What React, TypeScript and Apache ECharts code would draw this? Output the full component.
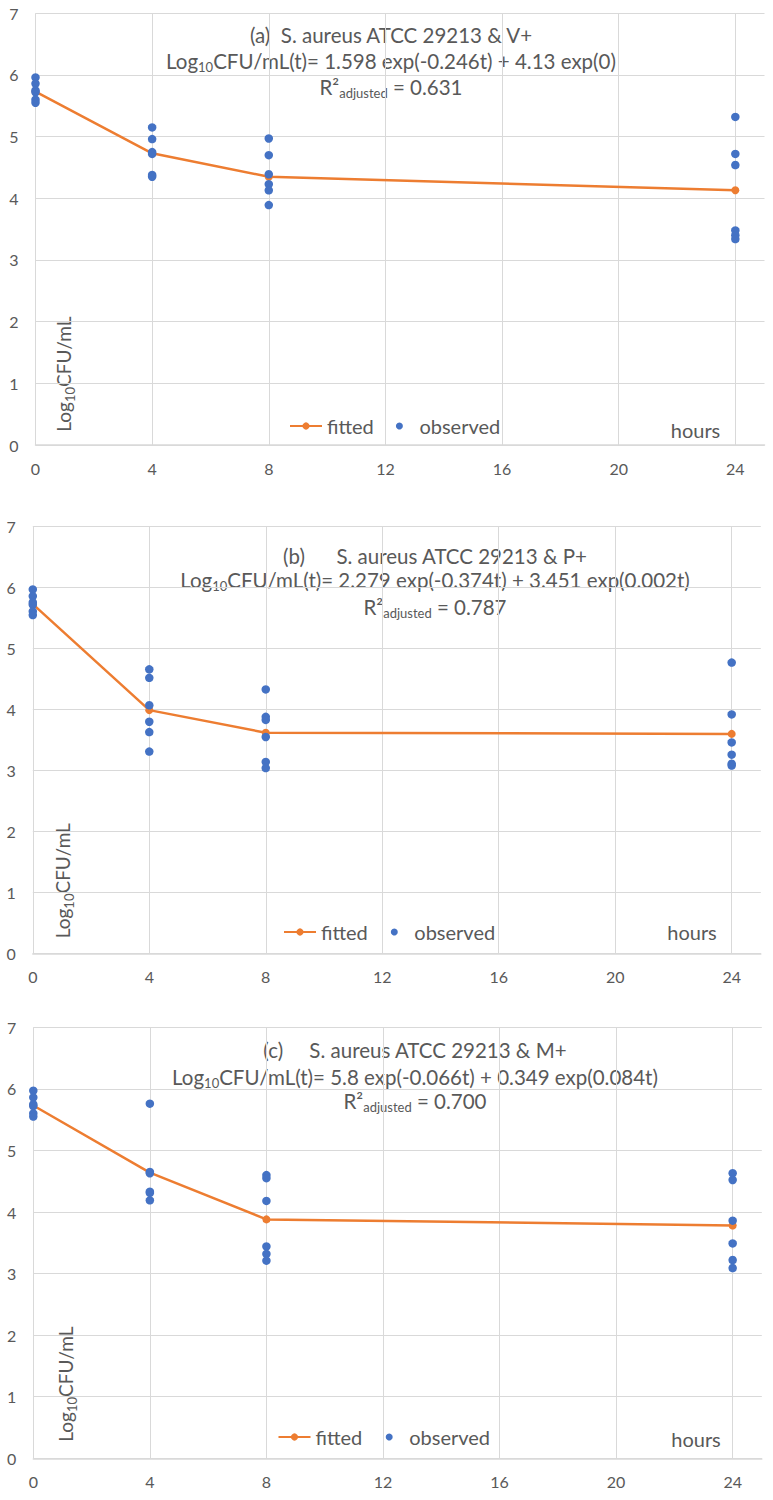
import React, { useEffect, useRef } from "react";
import * as echarts from "echarts";

const HOURS = [0, 4, 8, 24];
const X_MAX = 25;
const Y_MAX = 7;

const FIT_A = [5.73, 4.73, 4.35, 4.13];
const FIT_B = [5.73, 3.99, 3.62, 3.6];
const FIT_C = [5.73, 4.64, 3.88, 3.78];

const OBS_A = [
  [5.96, 5.86, 5.75, 5.72, 5.6, 5.55],
  [5.15, 4.96, 4.75, 4.72, 4.38, 4.35],
  [4.97, 4.7, 4.39, 4.23, 4.13, 3.89],
  [5.32, 4.72, 4.54, 3.48, 3.4, 3.34],
];
const OBS_B = [
  [5.97, 5.86, 5.76, 5.72, 5.61, 5.55],
  [4.66, 4.52, 4.07, 3.8, 3.63, 3.31],
  [4.33, 3.88, 3.83, 3.55, 3.14, 3.04],
  [4.77, 3.92, 3.46, 3.26, 3.11, 3.08],
];
const OBS_C = [
  [5.97, 5.86, 5.75, 5.72, 5.6, 5.55],
  [5.76, 4.65, 4.63, 4.33, 4.31, 4.19],
  [4.6, 4.55, 4.18, 3.44, 3.32, 3.21],
  [4.63, 4.52, 3.86, 3.49, 3.22, 3.09],
];

const TITLE_1 = [
  "(a)  S. aureus ATCC 29213 & V+",
  "(b)      S. aureus ATCC 29213 & P+",
  "(c)     S. aureus ATCC 29213 & M+",
];
const TITLE_2 = [
  "Log{s10|10}CFU/mL(t)= 1.598 exp(-0.246t) + 4.13 exp(0)",
  "Log{s10|10}CFU/mL(t)= 2.279 exp(-0.374t) + 3.451 exp(0.002t)",
  "Log{s10|10}CFU/mL(t)= 5.8 exp(-0.066t) + 0.349 exp(0.084t)",
];
const TITLE_3 = [
  "R²{sadj|adjusted} = 0.631",
  "R²{sadj|adjusted} = 0.787",
  "R²{sadj|adjusted} = 0.700",
];
const Y_NAME = "Log{s10|10}CFU/mL";
const X_NAME = "hours";
const LEG_FIT = "fitted";
const LEG_OBS = "observed";

const GRAY = "#595959";
const GRID_C = "#d9d9d9";
const ORANGE = "#ED7D31";
const BLUE = "#4472C4";
const FONT = "Lato, 'Open Sans', sans-serif";

const PANELS = [
  {
    grid: { left: 35.5, top: 13.3, width: 729, height: 431.7 },
    titleX: 391,
    titleY: [34.6, 60.6, 86.6],
    yName: [63.5, 431.7],
    xName: [695.5, 430],
    legTop: 415,
    legFitLeft: 289,
    legObsLeft: 395.9,
  },
  {
    grid: { left: 32.8, top: 526.7, width: 728, height: 426.6 },
    titleX: 435,
    titleY: [555.6, 579.6, 606.6],
    yName: [62, 938.3],
    xName: [692, 932],
    legTop: 921,
    legFitLeft: 283,
    legObsLeft: 390.8,
  },
  {
    grid: { left: 33.3, top: 1027.3, width: 728.5, height: 431 },
    titleX: 415,
    titleY: [1049.6, 1076.6, 1100.6],
    yName: [65.5, 1441.7],
    xName: [696, 1439],
    legTop: 1426,
    legFitLeft: 277.5,
    legObsLeft: 385.7,
  },
];

const FITS = [FIT_A, FIT_B, FIT_C];
const OBS = [OBS_A, OBS_B, OBS_C];

const RICH = {
  s10: { fontSize: 13, lineHeight: 12, verticalAlign: "bottom", fontFamily: FONT, fill: GRAY },
  sadj: { fontSize: 13, lineHeight: 18, verticalAlign: "bottom", fontFamily: FONT, fill: GRAY },
};
const RICH_Y = {
  s10: { fontSize: 13, lineHeight: 12, verticalAlign: "bottom", fontFamily: FONT, fill: GRAY },
};

export default function App() {
  const ref = useRef<HTMLDivElement>(null);
  useEffect(() => {
    const chart = echarts.init(ref.current!, null, { renderer: "svg" });
    const grids: any[] = [];
    const xAxes: any[] = [];
    const yAxes: any[] = [];
    const series: any[] = [];
    const legends: any[] = [];
    const graphics: any[] = [];

    PANELS.forEach((p, i) => {
      grids.push({ ...p.grid, containLabel: false });
      xAxes.push({
        type: "value",
        gridIndex: i,
        min: 0,
        max: X_MAX,
        interval: 4,
        axisTick: { show: false },
        axisLine: { show: true, lineStyle: { color: GRID_C, width: 1.5 } },
        axisLabel: {
          showMaxLabel: false,
          color: GRAY,
          fontSize: 16,
          fontFamily: FONT,
          margin: 15,
        },
        splitLine: { show: true, showMaxLine: false, lineStyle: { color: GRID_C, width: 1 } },
      });
      yAxes.push({
        type: "value",
        gridIndex: i,
        min: 0,
        max: Y_MAX,
        interval: 1,
        axisTick: { show: false },
        axisLine: { show: false },
        axisLabel: { color: GRAY, fontSize: 16, fontFamily: FONT, margin: 17 },
        splitLine: { show: true, lineStyle: { color: GRID_C, width: 1 } },
      });
      series.push({
        type: "line",
        name: LEG_FIT,
        xAxisIndex: i,
        yAxisIndex: i,
        data: HOURS.map((t, k) => [t, FITS[i][k]]),
        symbol: "circle",
        symbolSize: 8,
        showSymbol: true,
        lineStyle: { color: ORANGE, width: 2.5 },
        itemStyle: { color: ORANGE },
        z: 2,
      });
      const pts: number[][] = [];
      HOURS.forEach((t, k) => OBS[i][k].forEach((v) => pts.push([t, v])));
      series.push({
        type: "scatter",
        name: LEG_OBS,
        xAxisIndex: i,
        yAxisIndex: i,
        data: pts,
        symbol: "circle",
        symbolSize: 8.5,
        itemStyle: { color: BLUE, opacity: 1 },
        z: 3,
      });
      const legText = { fontSize: 20, fontFamily: FONT, color: GRAY, lineHeight: 22 };
      legends.push({
        data: [LEG_FIT],
        left: p.legFitLeft,
        top: p.legTop,
        padding: 0,
        itemWidth: 32,
        itemHeight: 9,
        selectedMode: false,
        textStyle: legText,
      });
      legends.push({
        data: [{ name: LEG_OBS, icon: "circle" }],
        left: p.legObsLeft,
        top: p.legTop,
        padding: 0,
        itemWidth: 30,
        itemHeight: 7,
        selectedMode: false,
        textStyle: legText,
      });
      const titles = [TITLE_1[i], TITLE_2[i], TITLE_3[i]];
      titles.forEach((t, k) => {
        graphics.push({
          type: "text",
          x: p.titleX,
          y: p.titleY[k],
          silent: true,
          style: {
            text: t,
            rich: RICH,
            fontSize: 20.5,
            fontFamily: FONT,
            fill: GRAY,
            lineHeight: 26,
            textAlign: "center",
            textVerticalAlign: "middle",
          },
        });
      });
      graphics.push({
        type: "text",
        x: p.yName[0],
        y: p.yName[1],
        rotation: Math.PI / 2,
        silent: true,
        style: {
          text: Y_NAME,
          rich: RICH_Y,
          fontSize: 19,
          fontFamily: FONT,
          fill: GRAY,
          lineHeight: 26,
          textAlign: "left",
          textVerticalAlign: "middle",
        },
      });
      graphics.push({
        type: "text",
        x: p.xName[0],
        y: p.xName[1],
        silent: true,
        style: {
          text: X_NAME,
          fontSize: 20,
          fontFamily: FONT,
          fill: GRAY,
          textAlign: "center",
          textVerticalAlign: "middle",
        },
      });
    });

    chart.setOption({
      animation: false,
      backgroundColor: "#ffffff",
      textStyle: { fontFamily: FONT },
      grid: grids,
      xAxis: xAxes,
      yAxis: yAxes,
      legend: legends,
      series,
      graphic: graphics,
    });
    return () => chart.dispose();
  }, []);
  return (
    <div
      ref={ref}
      style={{ position: "absolute", left: 0, top: 0, width: 773, height: 1500 }}
    />
  );
}
